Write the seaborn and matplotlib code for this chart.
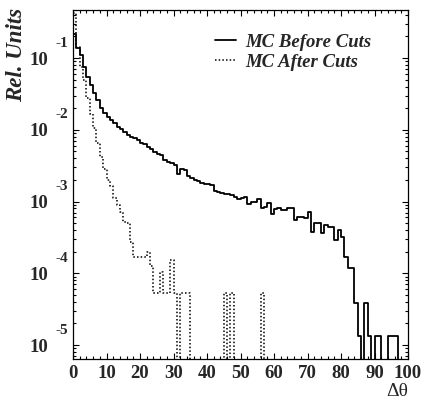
import numpy as np
import pandas as pd
import matplotlib
matplotlib.use('Agg')
import matplotlib.pyplot as plt
from matplotlib.ticker import MultipleLocator, LogLocator, FixedLocator, FixedFormatter, NullFormatter
import seaborn as sns

# Histogram contents, one value per 1-unit bin in delta theta (0..100)
bin_edges = list(range(0, 101))

before_cuts = [
    0.219, 0.138, 0.110, 0.0759, 0.0550, 0.0417, 0.0324, 0.0257, 0.0200, 0.0170,
    0.0151, 0.0138, 0.0123, 0.0110, 0.0102, 0.00933, 0.00851, 0.00794, 0.00759, 0.00724,
    0.00661, 0.00631, 0.00575, 0.00537, 0.00490, 0.00457, 0.00447, 0.00380, 0.00355, 0.00339,
    0.00324, 0.00240, 0.00288, 0.00275, 0.00229, 0.00214, 0.00200, 0.00191, 0.00182, 0.00178,
    0.00174, 0.00170, 0.00138, 0.00135, 0.00132, 0.00129, 0.00126, 0.00123, 0.00117, 0.00110,
    0.00112, 0.00115, 0.000933, 0.00100, 0.000977, 0.00110, 0.000813, 0.000851, 0.000955, 0.000676,
    0.000794, 0.000813, 0.000759, 0.000759, 0.000813, 0.000813, 0.000550, 0.000617, 0.000617, 0.000589,
    0.000724, 0.000380, 0.000501, 0.000501, 0.000363, 0.000468, 0.000447, 0.000447, 0.000288, 0.000398,
    0.000324, 0.000166, 0.000117, 0.000117, 3.8e-5, 1.32e-5, 0, 3.8e-5, 1.32e-5, 0,
    1.32e-5, 1.32e-5, 0, 0, 1.32e-5, 1.32e-5, 1.32e-5, 0, 0, 0,
]

after_cuts = [
    0.427, 0.141, 0.0759, 0.0501, 0.0275, 0.0166, 0.0105, 0.00661, 0.00417, 0.00282,
    0.00200, 0.00162, 0.00112, 0.000891, 0.000708, 0.000525, 0.000501, 0.000275, 0.000166, 0.000166,
    0.000166, 0.000166, 0.000200, 0.000126, 5.25e-5, 5.25e-5, 0.000105, 5.25e-5, 5.25e-5, 0.000151,
    5.25e-5, 0, 5.25e-5, 5.25e-5, 5.25e-5, 0, 0, 0, 0, 0,
    0, 0, 0, 0, 0, 5.25e-5, 0, 5.25e-5, 0, 0,
    0, 0, 0, 0, 0, 0, 5.25e-5, 0, 0, 0,
] + [0] * 40

y_tick_exponents = [-1, -2, -3, -4, -5]

sns.set_style('ticks')
plt.rcParams['font.family'] = ['Liberation Serif', 'DejaVu Serif']

fig = plt.figure(figsize=(4.22, 4.08), dpi=100)
ax = fig.add_axes([73 / 422, 1 - 359 / 408, 335 / 422, 349 / 408])

centers = [(a + b) / 2 for a, b in zip(bin_edges[:-1], bin_edges[1:])]
df = pd.DataFrame({'dtheta': centers, 'before': before_cuts, 'after': after_cuts})

sns.histplot(data=df, x='dtheta', weights='before', bins=bin_edges, element='step', fill=False,
             color='black', linewidth=1.3, ax=ax, label='MC Before Cuts')
sns.histplot(data=df, x='dtheta', weights='after', bins=bin_edges, element='step', fill=False,
             color='black', linewidth=1.1, linestyle=(0, (1, 1.4)), ax=ax, label='MC After Cuts')

ax.set_yscale('log')
ax.set_xlim(0, 100)
ax.set_ylim(10 ** -5.195, 10 ** -0.331)
ax.set_xlabel('')
ax.set_ylabel('')

# axis ticks (PAW style, inward on all sides)
ax.xaxis.set_major_locator(MultipleLocator(10))
ax.xaxis.set_minor_locator(MultipleLocator(2))
yt = [10.0 ** e for e in y_tick_exponents]
ax.yaxis.set_major_locator(FixedLocator(yt))
ax.yaxis.set_major_formatter(FixedFormatter(['10'] * len(yt)))
ax.yaxis.set_minor_locator(LogLocator(base=10, subs=range(2, 10), numticks=20))
ax.yaxis.set_minor_formatter(NullFormatter())
ax.tick_params(which='both', direction='in', top=True, right=True, width=0.8, color='black')
ax.tick_params(which='major', length=4.5)
ax.tick_params(which='minor', length=2.2)
ax.tick_params(axis='x', which='major', pad=4, labelsize=13.5)
ax.tick_params(axis='y', which='major', pad=18, labelsize=13.5)
for lab in ax.get_xticklabels() + ax.get_yticklabels():
    lab.set_fontweight('bold')
for s in ax.spines.values():
    s.set_linewidth(0.9)
    s.set_color('black')

# exponents of the y tick labels
for e, v in zip(y_tick_exponents, yt):
    ax.annotate(str(e), xy=(0, v), xycoords=('axes fraction', 'data'),
                xytext=(-5, 15), textcoords='offset pixels', ha='right', va='center',
                fontsize=11, fontweight='bold')

fig.text(17 / 422, 1 - 8 / 408, 'Rel. Units', rotation=90, ha='center', va='top',
         fontsize=16.5, fontweight='bold', fontstyle='italic')
fig.text(408 / 422, 1 - 392 / 408, 'Δθ', ha='right', va='center', fontsize=14)

ax.legend(loc='upper left', bbox_to_anchor=(0.424, 0.932), frameon=False,
          prop={'family': 'Liberation Serif', 'weight': 'bold', 'style': 'italic', 'size': 13.5},
          handlelength=1.1, handletextpad=0.5, labelspacing=0.15, borderpad=0, borderaxespad=0)

fig.savefig('out.png', dpi=100)
